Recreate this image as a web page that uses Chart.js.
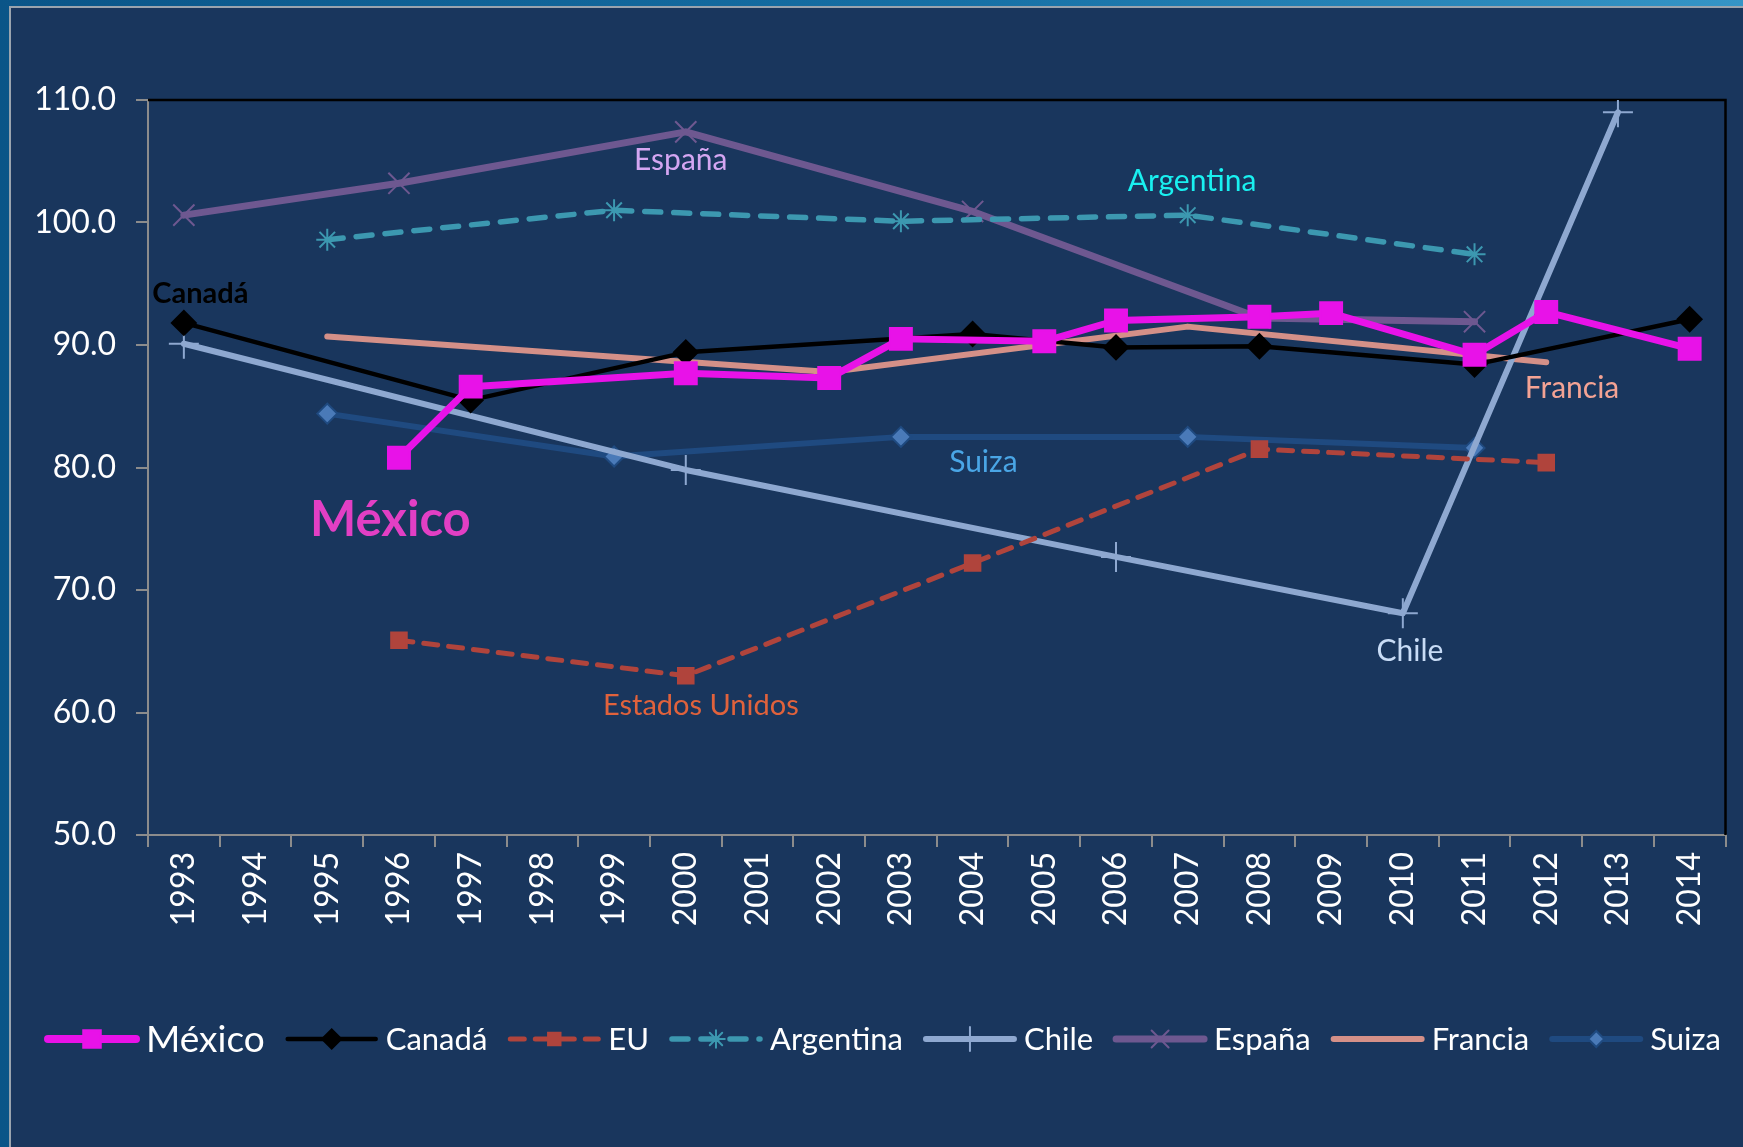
<!DOCTYPE html>
<html>
<head>
<meta charset="utf-8">
<script src="https://cdn.jsdelivr.net/npm/chart.js@4.4.0/dist/chart.umd.min.js"></script>
<style>
html, body { margin: 0; padding: 0; }
body { width: 1743px; height: 1147px; overflow: hidden; position: relative;
       background: linear-gradient(90deg, #0a5588 0%, #1670a5 55%, #3595c6 100%); }
#panel { position: absolute; left: 9px; top: 6px; right: 0; bottom: 0;
         background: #19365d; border-left: 2px solid #9aa4ae; border-top: 2px solid #9aa4ae; }
#wrap { position: absolute; left: 0; top: 0; width: 1743px; height: 1147px; }
</style>
</head>
<body>
<div id="panel"></div>
<div id="wrap"><canvas id="myChart" width="1743" height="1147"></canvas></div>
<script>
var years = ['1993','1994','1995','1996','1997','1998','1999','2000','2001','2002','2003',
             '2004','2005','2006','2007','2008','2009','2010','2011','2012','2013','2014'];

var mexico    = [null, null, null, 80.8, 86.6, null, null, 87.7, null, 87.3, 90.5, null, 90.3, 92.0, null, 92.3, 92.6, null, 89.2, 92.7, null, 89.7];
var canada    = [91.8, null, null, null, 85.5, null, null, 89.4, null, null, null, 90.9, null, 89.8, null, 89.9, null, null, 88.4, null, null, 92.1];
var eu        = [null, null, null, 65.9, null, null, null, 63.0, null, null, null, 72.2, null, null, null, 81.5, null, null, null, 80.4, null, null];
var argentina = [null, null, 98.6, null, null, null, 101.0, null, null, null, 100.1, null, null, null, 100.6, null, null, null, 97.4, null, null, null];
var chile     = [90.1, null, null, null, null, null, null, 79.8, null, null, null, null, null, 72.7, null, null, null, 68.1, null, null, 109.0, null];
var espana    = [100.6, null, null, 103.2, null, null, null, 107.4, null, null, null, 100.9, null, null, null, 92.2, null, null, 91.9, null, null, null];
var francia   = [null, null, 90.7, null, null, null, null, null, null, 87.8, null, null, null, null, 91.5, null, null, null, null, 88.6, null, null];
var suiza     = [null, null, 84.4, null, null, null, 80.9, null, null, null, 82.5, null, null, null, 82.5, null, null, null, 81.6, null, null, null];

var yTicks = [50, 60, 70, 80, 90, 100, 110];

// labels written next to the lines (placed in data units)
var notes = [
    { text: 'Canadá', x: 0.23, y: 94.2, color: '#000000', font: 'bold 29px Lato' },
    { text: 'España', x: 6.93, y: 105.1, color: '#d4a6f2', font: '30px Lato' },
    { text: 'Argentina', x: 14.06, y: 103.4, color: '#19f0f0', font: '30px Lato' },
    { text: 'Francia', x: 19.36, y: 86.5, color: '#f4a394', font: '30px Lato' },
    { text: 'Suiza', x: 11.15, y: 80.4, color: '#4aa6e6', font: '30px Lato' },
    { text: 'México', x: 2.88, y: 75.7, color: '#e23fc4', font: 'bold 49px Lato' },
    { text: 'Estados Unidos', x: 7.21, y: 60.6, color: '#e0623c', font: '29px Lato' },
    { text: 'Chile', x: 17.1, y: 65.0, color: '#c8dcf6', font: '30px Lato' }
];

Chart.defaults.font.family = 'Lato';

function line(label, data, color, width, style, radius, extra) {
    var ds = {
        label: label,
        data: data,
        borderColor: color,
        borderWidth: width,
        borderCapStyle: 'round',
        borderJoinStyle: 'round',
        spanGaps: true,
        fill: false,
        tension: 0,
        pointStyle: style,
        pointRadius: radius,
        pointHoverRadius: radius,
        pointBackgroundColor: color,
        pointBorderColor: color,
        pointBorderWidth: 2
    };
    for (var k in extra) ds[k] = extra[k];
    return ds;
}

var framePlugin = {
    id: 'frame',
    beforeDatasetsDraw: function(chart) {
        var a = chart.chartArea, ctx = chart.ctx;
        ctx.save();
        ctx.strokeStyle = '#000';
        ctx.lineWidth = 2.5;
        ctx.beginPath();
        ctx.moveTo(a.left, a.top);
        ctx.lineTo(a.right, a.top);
        ctx.lineTo(a.right, a.bottom);
        ctx.stroke();
        ctx.restore();
    }
};

var notesPlugin = {
    id: 'notes',
    afterDatasetsDraw: function(chart) {
        var ctx = chart.ctx, xs = chart.scales.x, ys = chart.scales.y;
        ctx.save();
        ctx.textAlign = 'center';
        ctx.textBaseline = 'middle';
        notes.forEach(function(n) {
            ctx.font = n.font;
            ctx.fillStyle = n.color;
            ctx.fillText(n.text, xs.getPixelForValue(n.x), ys.getPixelForValue(n.y));
        });
        ctx.restore();
    }
};

var legendPlugin = {
    id: 'bottomLegend',
    afterDraw: function(chart) {
        var ctx = chart.ctx;
        var x = 48, y = 1039, len = 88;
        chart.data.datasets.forEach(function(ds, i) {
            ctx.save();
            ctx.strokeStyle = ds.borderColor;
            ctx.lineWidth = ds.borderWidth + (i === 0 ? 1 : 0);
            ctx.lineCap = 'round';
            ctx.setLineDash(ds.borderDash || []);
            ctx.beginPath();
            ctx.moveTo(x, y);
            ctx.lineTo(x + len, y);
            ctx.stroke();
            ctx.setLineDash([]);
            if (ds.pointStyle) {
                ctx.fillStyle = ds.pointBackgroundColor;
                ctx.strokeStyle = ds.pointBorderColor;
                ctx.lineWidth = ds.pointBorderWidth;
                Chart.helpers.drawPoint(ctx, {
                    pointStyle: ds.pointStyle,
                    radius: ds.pointRadius * 0.8,
                    rotation: 0,
                    borderWidth: ds.pointBorderWidth
                }, x + len / 2, y);
            }
            ctx.font = i === 0 ? '37px Lato' : '31px Lato';
            ctx.fillStyle = '#ffffff';
            ctx.textAlign = 'left';
            ctx.textBaseline = 'middle';
            ctx.fillText(ds.label, x + len + 10, y + 1);
            x += len + 10 + ctx.measureText(ds.label).width + 23;
            ctx.restore();
        });
    }
};

var ctx = document.getElementById('myChart').getContext('2d');
var chart = new Chart(ctx, {
    type: 'line',
    data: {
        labels: years,
        datasets: [
            line('México', mexico, '#e812e8', 7, 'rect', 15.5, {}),
            line('Canadá', canada, '#000000', 4.5, 'rectRot', 12, {}),
            line('EU', eu, '#b0443c', 5, 'rect', 11, { borderDash: [14, 11] }),
            line('Argentina', argentina, '#3c98b0', 5.5, 'star', 11, { borderDash: [16, 13] }),
            line('Chile', chile, '#8ea8d0', 6, 'cross', 15, {}),
            line('España', espana, '#6e5890', 7, 'crossRot', 15, {}),
            line('Francia', francia, '#d49088', 6, false, 0, {}),
            line('Suiza', suiza, '#1f4a80', 6, 'rectRot', 10, { pointBackgroundColor: '#4a7ab8', pointBorderColor: '#1f4a80' })
        ]
    },
    options: {
        responsive: false,
        animation: false,
        layout: { padding: { left: 0, top: 100, right: 12, bottom: 0 } },
        plugins: {
            legend: { display: false },
            tooltip: { enabled: false }
        },
        scales: {
            x: {
                offset: true,
                afterFit: function(s) { s.height = 312; s.paddingLeft = 0; s.paddingRight = 0; },
                grid: { display: true, offset: true, drawOnChartArea: false, drawTicks: true, tickLength: 12, color: '#8c8c8c', lineWidth: 2 },
                border: { display: true, color: '#8c8c8c', width: 2 },
                ticks: { color: '#ffffff', font: { size: 32 }, minRotation: 90, maxRotation: 90, padding: 5, autoSkip: false }
            },
            y: {
                min: yTicks[0],
                max: yTicks[yTicks.length - 1],
                afterFit: function(s) { s.width = 148; },
                afterBuildTicks: function(s) { s.ticks = yTicks.map(function(v) { return { value: v }; }); },
                grid: { display: true, drawOnChartArea: false, drawTicks: true, tickLength: 12, color: '#8c8c8c', lineWidth: 2 },
                border: { display: true, color: '#8c8c8c', width: 2 },
                ticks: { color: '#ffffff', font: { size: 32 }, padding: 20, callback: function(v) { return Number(v).toFixed(1); } }
            }
        }
    },
    plugins: [framePlugin, notesPlugin, legendPlugin]
});
</script>
</body>
</html>
